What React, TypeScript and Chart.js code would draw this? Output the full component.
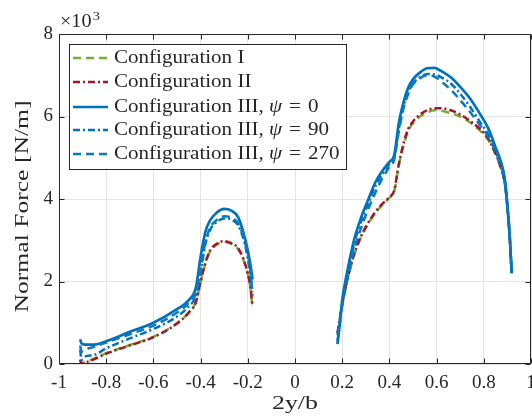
import React, { useEffect, useRef } from "react";
import { Chart, registerables } from "chart.js";

Chart.register(...registerables);

// ---------- data ----------
const xLeft = [-0.91, -0.905, -0.89, -0.85, -0.8, -0.7, -0.6, -0.5, -0.45, -0.42, -0.4, -0.38, -0.36, -0.33, -0.3, -0.27, -0.24, -0.21, -0.19, -0.18];
const xRight = [0.18, 0.19, 0.2, 0.22, 0.25, 0.28, 0.31, 0.34, 0.37, 0.4, 0.42, 0.44, 0.46, 0.48, 0.5, 0.53, 0.56, 0.59, 0.62, 0.66, 0.7, 0.74, 0.78, 0.82, 0.85, 0.87, 0.89, 0.9, 0.91, 0.918];

const cfg1Left = [0.12, 0.02, 0.04, 0.13, 0.26, 0.46, 0.66, 0.99, 1.25, 1.5, 1.98, 2.43, 2.73, 2.9, 2.96, 2.91, 2.78, 2.38, 1.88, 1.38];
const cfg2Left = [0.1, 0.0, 0.03, 0.12, 0.25, 0.45, 0.65, 0.98, 1.25, 1.5, 2.0, 2.45, 2.75, 2.92, 2.98, 2.93, 2.8, 2.4, 1.9, 1.4];
const cfg3p0Left = [0.6, 0.5, 0.47, 0.47, 0.55, 0.78, 1.0, 1.33, 1.55, 1.85, 2.6, 3.2, 3.48, 3.68, 3.76, 3.72, 3.55, 3.0, 2.45, 2.05];
const cfg3p90Left = [0.35, 0.1, 0.18, 0.22, 0.38, 0.62, 0.85, 1.15, 1.4, 1.65, 2.2, 2.9, 3.25, 3.45, 3.53, 3.5, 3.35, 2.85, 2.2, 1.75];
const cfg3p270Left = [0.45, 0.3, 0.35, 0.42, 0.52, 0.72, 0.93, 1.25, 1.48, 1.72, 2.3, 2.95, 3.3, 3.5, 3.58, 3.55, 3.4, 2.9, 2.3, 1.65];

const cfg1Right = [0.75, 1.1, 1.45, 2.0, 2.63, 3.08, 3.4, 3.66, 3.86, 4.03, 4.18, 4.82, 5.3, 5.65, 5.84, 6.0, 6.1, 6.15, 6.14, 6.08, 6.0, 5.86, 5.68, 5.42, 5.08, 4.78, 4.33, 3.8, 3.05, 2.2];
const cfg2Right = [0.75, 1.1, 1.45, 2.0, 2.65, 3.1, 3.42, 3.68, 3.88, 4.05, 4.2, 4.85, 5.35, 5.7, 5.88, 6.05, 6.15, 6.2, 6.2, 6.15, 6.05, 5.9, 5.72, 5.45, 5.1, 4.8, 4.35, 3.8, 3.05, 2.2];
const cfg3p0Right = [0.48, 1.0, 1.55, 2.2, 3.0, 3.55, 3.98, 4.4, 4.68, 4.9, 5.05, 5.85, 6.35, 6.7, 6.9, 7.07, 7.17, 7.18, 7.1, 6.95, 6.72, 6.45, 6.1, 5.7, 5.25, 4.95, 4.45, 3.85, 3.1, 2.2];
const cfg3p90Right = [0.55, 0.95, 1.45, 2.1, 2.9, 3.45, 3.88, 4.3, 4.6, 4.85, 5.0, 5.7, 6.25, 6.6, 6.8, 6.95, 7.03, 7.02, 6.95, 6.8, 6.55, 6.25, 5.9, 5.55, 5.15, 4.85, 4.35, 3.8, 3.05, 2.2];
const cfg3p270Right = [0.7, 1.05, 1.4, 2.0, 2.75, 3.3, 3.75, 4.15, 4.5, 4.78, 4.95, 5.65, 6.2, 6.55, 6.78, 6.93, 7.0, 6.97, 6.85, 6.65, 6.4, 6.12, 5.82, 5.5, 5.15, 4.85, 4.4, 3.85, 3.1, 2.25];

const xTicks = [-1, -0.8, -0.6, -0.4, -0.2, 0, 0.2, 0.4, 0.6, 0.8, 1];
const yTicks = [0, 2, 4, 6, 8];

const seriesLabels = [
  "Configuration I",
  "Configuration II",
  "Configuration III, ψ = 0",
  "Configuration III, ψ = 90",
  "Configuration III, ψ = 270",
];
const xTitle = "2y/b";
const yTitle = "Normal Force [N/m]";

const FONT = '"Liberation Serif", "Times New Roman", serif';
const AXIS = "#262626";
const CW = 560;
const CH = 416;

function toPoints(l: number[], r: number[]) {
  return [
    ...xLeft.map((x, i) => ({ x, y: l[i] as number | null })),
    { x: 0, y: null as number | null },
    ...xRight.map((x, i) => ({ x, y: r[i] as number | null })),
  ];
}

// draws a legend label at current origin (left, middle), italic psi, widened "=" spacing
function drawLabel(ctx: CanvasRenderingContext2D, label: string) {
  ctx.textBaseline = "middle";
  ctx.textAlign = "left";
  const idx = label.indexOf("ψ");
  ctx.font = `18px ${FONT}`;
  if (idx < 0) {
    ctx.fillText(label, 0, 0);
    return;
  }
  const a = label.slice(0, idx);
  const rest = label.slice(idx + 1).trim();
  const num = rest.replace("=", "").trim();
  let cx = 0;
  ctx.fillText(a, cx, 0);
  cx += ctx.measureText(a).width;
  ctx.font = `italic 18px ${FONT}`;
  ctx.fillText("ψ", cx, 0);
  cx += ctx.measureText("ψ").width + 6;
  ctx.font = `18px ${FONT}`;
  ctx.fillText("=", cx, 0);
  cx += ctx.measureText("=").width + 6;
  ctx.fillText(num, cx, 0);
}

const framePlugin = {
  id: "frame",
  afterDatasetsDraw(chart: any) {
    const { ctx, chartArea: a, scales } = chart;
    const xs = scales.x;
    const ys = scales.y;
    ctx.save();
    ctx.strokeStyle = AXIS;
    ctx.lineWidth = 1;
    const L = Math.round(a.left) + 0.5;
    const R = Math.round(a.right) - 0.5;
    const T = Math.round(a.top) + 0.5;
    const B = Math.round(a.bottom) - 0.5;
    ctx.beginPath();
    ctx.rect(L, T, R - L, B - T);
    const tl = 5;
    xTicks.forEach((v) => {
      const px = Math.round(xs.getPixelForValue(v)) + 0.5;
      ctx.moveTo(px, B);
      ctx.lineTo(px, B - tl);
      ctx.moveTo(px, T);
      ctx.lineTo(px, T + tl);
    });
    yTicks.forEach((v) => {
      const py = Math.round(ys.getPixelForValue(v)) + 0.5;
      ctx.moveTo(L, py);
      ctx.lineTo(L + tl, py);
      ctx.moveTo(R, py);
      ctx.lineTo(R - tl, py);
    });
    ctx.stroke();

    ctx.fillStyle = AXIS;

    // exponent label
    ctx.save();
    ctx.translate(60, 27);
    ctx.scale(1.12, 1);
    ctx.textAlign = "left";
    ctx.textBaseline = "alphabetic";
    ctx.font = `18px ${FONT}`;
    ctx.fillText("×10", 0, 0);
    const w = ctx.measureText("×10").width;
    ctx.font = `13px ${FONT}`;
    ctx.fillText("3", w + 1, -7);
    ctx.restore();

    // x-axis title
    ctx.save();
    ctx.font = `19px ${FONT}`;
    const xw = ctx.measureText(xTitle).width;
    ctx.translate((a.left + a.right) / 2, 409);
    ctx.scale(46 / xw, 1);
    ctx.textAlign = "center";
    ctx.textBaseline = "alphabetic";
    ctx.fillText(xTitle, 0, 0);
    ctx.restore();

    // y-axis title
    ctx.save();
    ctx.font = `18px ${FONT}`;
    const yw = ctx.measureText(yTitle).width;
    ctx.translate(27.5, 206.5);
    ctx.rotate(-Math.PI / 2);
    ctx.scale(212 / yw, 1);
    ctx.textAlign = "center";
    ctx.textBaseline = "alphabetic";
    ctx.fillText(yTitle, 0, 0);
    ctx.restore();

    // legend
    const bx = 69.5, by = 44.5, bw = 277, bh = 125;
    ctx.fillStyle = "#ffffff";
    ctx.fillRect(bx, by, bw, bh);
    ctx.strokeStyle = AXIS;
    ctx.lineWidth = 1;
    ctx.strokeRect(bx, by, bw, bh);
    const rows = [58, 82, 107, 130, 154];
    chart.data.datasets.forEach((ds: any, i: number) => {
      const y = rows[i];
      ctx.save();
      ctx.strokeStyle = ds.borderColor;
      ctx.lineWidth = ds.borderWidth;
      ctx.setLineDash(ds.borderDash || []);
      ctx.beginPath();
      ctx.moveTo(73, y);
      ctx.lineTo(108, y);
      ctx.stroke();
      ctx.restore();
      ctx.save();
      ctx.fillStyle = AXIS;
      ctx.translate(114, y);
      ctx.scale(1.17, 1);
      drawLabel(ctx, ds.label);
      ctx.restore();
    });
    ctx.restore();
  },
};

export default function App() {
  const ref = useRef<HTMLCanvasElement | null>(null);

  useEffect(() => {
    document.documentElement.style.overflow = "hidden";
    document.body.style.overflow = "hidden";
    const canvas = ref.current;
    if (!canvas) return;
    const dash = [8, 5];
    const dashDot = [7, 3, 2, 3];
    const chart = new Chart(canvas, {
      type: "line",
      data: {
        datasets: [
          { label: seriesLabels[0], data: toPoints(cfg1Left, cfg1Right), borderColor: "#77AC30", borderWidth: 2.5, borderDash: dash, order: 5 },
          { label: seriesLabels[1], data: toPoints(cfg2Left, cfg2Right), borderColor: "#A2142F", borderWidth: 2.5, borderDash: dashDot, order: 4 },
          { label: seriesLabels[2], data: toPoints(cfg3p0Left, cfg3p0Right), borderColor: "#0072BD", borderWidth: 2.7, borderDash: [], order: 3 },
          { label: seriesLabels[3], data: toPoints(cfg3p90Left, cfg3p90Right), borderColor: "#0072BD", borderWidth: 2.5, borderDash: dashDot, order: 2 },
          { label: seriesLabels[4], data: toPoints(cfg3p270Left, cfg3p270Right), borderColor: "#0A78C2", borderWidth: 2.5, borderDash: dash, order: 1 },
        ] as any,
      },
      options: {
        animation: false,
        responsive: false,
        spanGaps: false,
        elements: {
          point: { radius: 0, hoverRadius: 0 },
          line: { cubicInterpolationMode: "monotone", fill: false, borderCapStyle: "butt" },
        },
        layout: { padding: { left: 0, top: 34, right: CW - 531, bottom: 0 } },
        plugins: { legend: { display: false }, tooltip: { enabled: false } },
        scales: {
          x: {
            type: "linear",
            min: -1,
            max: 1,
            afterBuildTicks: (s: any) => {
              s.ticks = xTicks.map((v) => ({ value: v }));
            },
            afterFit: (s: any) => {
              s.height = 52;
            },
            grid: { color: "#e4e4e4", drawTicks: false, lineWidth: 1 },
            border: { display: false },
            ticks: {
              padding: 8,
              color: AXIS,
              autoSkip: false,
              maxRotation: 0,
              font: { family: FONT, size: 19 },
              callback: (v: any) => String(Math.round(Number(v) * 10) / 10),
            },
            title: { display: false },
          },
          y: {
            type: "linear",
            min: 0,
            max: 8,
            afterBuildTicks: (s: any) => {
              s.ticks = yTicks.map((v) => ({ value: v }));
            },
            afterFit: (s: any) => {
              s.width = 59;
            },
            grid: { color: "#e4e4e4", drawTicks: false, lineWidth: 1 },
            border: { display: false },
            ticks: {
              padding: 6,
              color: AXIS,
              font: { family: FONT, size: 19 },
              callback: (v: any) => String(v),
            },
            title: { display: false },
          },
        },
      } as any,
      plugins: [framePlugin],
    });
    return () => chart.destroy();
  }, []);

  return (
    <div style={{ position: "absolute", left: 0, top: 0, width: CW, height: CH, background: "#fff" }}>
      <canvas ref={ref} width={CW} height={CH} style={{ display: "block" }} />
    </div>
  );
}
